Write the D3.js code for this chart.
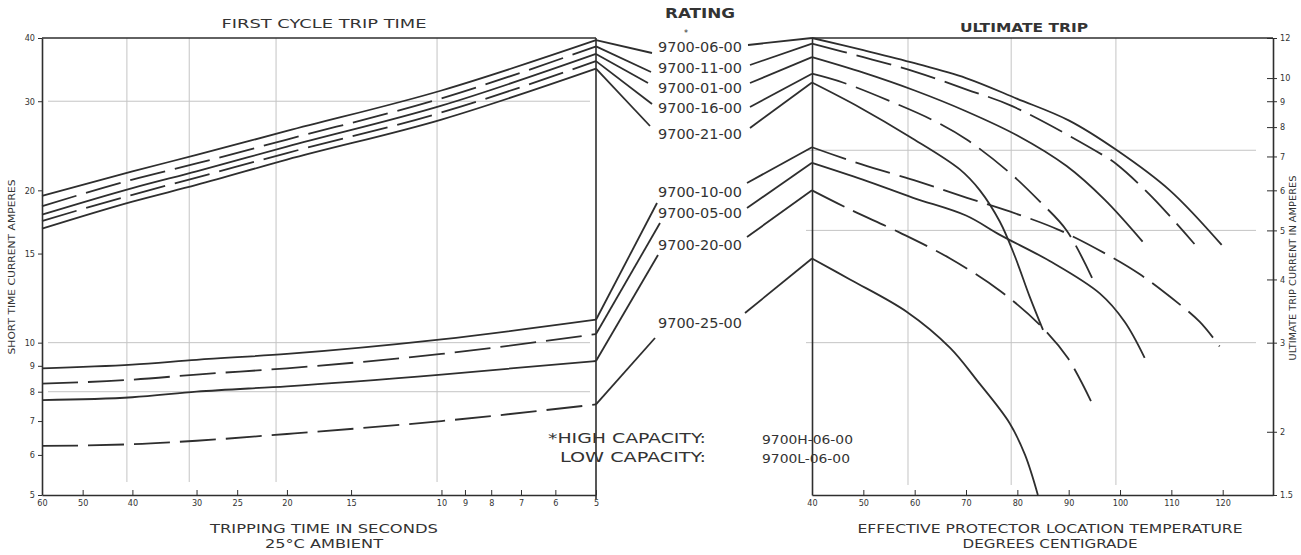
<!DOCTYPE html>
<html>
<head>
<meta charset="utf-8">
<script src="https://cdn.jsdelivr.net/npm/d3@7"></script>
<style>
  body { margin: 0; background: #fff; }
  text { font-family: "DejaVu Sans Condensed", "DejaVu Sans", sans-serif; fill: #333; }
</style>
</head>
<body>
<script>
// Ratings, in the order they are listed in the middle
var ratings = ["9700-06-00", "9700-11-00", "9700-01-00", "9700-16-00", "9700-21-00",
               "9700-10-00", "9700-05-00", "9700-20-00", "9700-25-00"];

// First cycle trip time: tripping time (s) and current (A) for each rating
var tripTimes = [60, 40, 30, 20, 10, 5];
var firstCycle06 = [19.5, 21.8, 23.5, 26.2, 31.5, 39.6];
var firstCycle11 = [18.6, 21.0, 22.6, 25.2, 30.4, 38.5];
var firstCycle01 = [17.9, 20.2, 21.8, 24.4, 29.4, 37.2];
var firstCycle16 = [17.4, 19.6, 21.2, 23.7, 28.5, 36.0];
var firstCycle21 = [16.8, 19.0, 20.5, 23.0, 27.6, 34.8];
var firstCycle10 = [8.9, 9.05, 9.25, 9.5, 10.15, 11.1];
var firstCycle05 = [8.3, 8.45, 8.65, 8.9, 9.5, 10.4];
var firstCycle20 = [7.7, 7.8, 8.0, 8.2, 8.65, 9.2];
var firstCycle25 = [6.25, 6.3, 6.4, 6.6, 7.0, 7.55];

// Ultimate trip: [temperature C, current A]
var ultimate06 = [[40,12.0],[50,11.35],[60,10.7],[70,10.0],[80,9.1],[90,8.25],[99.4,7.2],[109.7,6.0],[119.8,4.68]];
var ultimate11 = [[40,11.7],[50,11.0],[60,10.3],[70,9.5],[79,8.8],[96.6,7.05],[99.4,6.75],[106.4,5.8],[114.5,4.7]];
var ultimate01 = [[40,11.0],[50,10.25],[60,9.45],[70,8.6],[80,7.7],[89.6,6.7],[97,5.75],[104.4,4.75]];
var ultimate16 = [[40,10.2],[46,9.8],[55.8,8.95],[63.6,8.25],[70.2,7.55],[78.5,6.5],[84.4,5.7],[89.6,5.0],[94.7,4.0]];
var ultimate21 = [[40,9.8],[49.3,8.75],[59.1,7.65],[68.8,6.6],[72.7,6.0],[76.6,5.2],[79.5,4.45],[82.4,3.7],[85,3.18]];
var ultimate10 = [[40,7.3],[49.7,6.75],[60.6,6.25],[70.2,5.8],[78.5,5.45],[88.3,5.0],[98,4.45],[103.8,4.1],[109.7,3.7],[115.5,3.3],[119.4,2.95]];
var ultimate05 = [[40,6.8],[49.9,6.3],[59.7,5.8],[70,5.35],[76.6,4.9],[86.3,4.35],[96.1,3.75],[100.9,3.3],[104.8,2.8]];
var ultimate20 = [[40,6.0],[47.4,5.5],[57.1,4.95],[66.9,4.4],[76.6,3.8],[84.4,3.25],[89.8,2.8],[94.7,2.26]];
var ultimate25 = [[40,4.4],[47.4,4.0],[58.5,3.45],[66.9,2.93],[72.1,2.53],[78.5,2.08],[81.5,1.8],[84,1.5]];

// Tick labels
var leftAmpTicks = [5, 6, 7, 8, 9, 10, 15, 20, 30, 40];
var timeTicks = [60, 50, 40, 30, 25, 20, 15, 10, 9, 8, 7, 6, 5];
var tempTicks = [40, 50, 60, 70, 80, 90, 100, 110, 120];
var rightAmpTicks = [1.5, 2, 3, 4, 5, 6, 7, 8, 9, 10, 12];

// Gridlines as printed on the chart paper
var gridTimes = [41, 31, 21, 10.2];
var gridLeftAmps = [30, 10, 8];
var gridTemps = [58.7, 78.8, 99.2];
var gridRightAmps = [7.2, 5, 3];

function drawChart() {
    var width = 1301, height = 555;
    var top = 38, bottom = 495;
    var ink = "#2e2e2e", grid = "#c4c4c4";
    var dashed = [false, true, false, true, false, false, true, false, true];
    var dashedRight = [false, true, false, true, false, true, false, true, false];
    var dash = "36,10";

    var svg = d3.select("body").append("svg").attr("width", width).attr("height", height);

    // Skalor
    var xL = d3.scaleLog().domain([60, 5]).range([42, 596]);
    var yL = d3.scaleLog().domain([5, 40]).range([bottom, top]);
    var xR = d3.scaleLinear().domain([40, 129.8]).range([812, 1273]);
    var yR = d3.scaleLog().domain([1.5, 12]).range([bottom, top]);

    // Rutnät vänster
    svg.selectAll(".gxl").data(gridTimes).join("line").attr("class", "gxl")
        .attr("x1", d => xL(d)).attr("x2", d => xL(d))
        .attr("y1", top).attr("y2", 482)
        .attr("stroke", grid).attr("stroke-width", 1);
    svg.selectAll(".gyl").data(gridLeftAmps).join("line").attr("class", "gyl")
        .attr("x1", 48).attr("x2", 590)
        .attr("y1", d => yL(d)).attr("y2", d => yL(d))
        .attr("stroke", grid).attr("stroke-width", 1);

    // Rutnät höger
    svg.selectAll(".gxr").data(gridTemps).join("line").attr("class", "gxr")
        .attr("x1", d => xR(d)).attr("x2", d => xR(d))
        .attr("y1", top).attr("y2", 485)
        .attr("stroke", grid).attr("stroke-width", 1);
    svg.selectAll(".gyr").data(gridRightAmps).join("line").attr("class", "gyr")
        .attr("x1", 806).attr("x2", 1256)
        .attr("y1", d => yR(d)).attr("y2", d => yR(d))
        .attr("stroke", grid).attr("stroke-width", 1);

    // Axlar
    function styleAxis(g) {
        g.attr("font-family", "DejaVu Sans Condensed, DejaVu Sans, sans-serif").attr("font-size", 9);
        g.select(".domain").attr("stroke", ink).attr("stroke-width", 1.6);
        g.selectAll(".tick line").attr("stroke", ink);
        g.selectAll(".tick text").attr("fill", "#555");
    }
    svg.append("g").attr("transform", "translate(42,0)")
        .call(d3.axisLeft(yL).tickValues(leftAmpTicks).tickFormat(d3.format("d")).tickSize(4).tickSizeOuter(0).tickPadding(3))
        .call(styleAxis);
    svg.append("g").attr("transform", "translate(0," + bottom + ")")
        .call(d3.axisBottom(xL).tickValues(timeTicks).tickFormat(d3.format("d")).tickSize(-5).tickSizeOuter(0).tickPadding(5))
        .call(styleAxis);
    svg.append("g").attr("transform", "translate(812,0)")
        .call(d3.axisLeft(yR).tickValues([]).tickSizeOuter(0))
        .call(styleAxis);
    svg.append("g").attr("transform", "translate(0," + bottom + ")")
        .call(d3.axisBottom(xR).tickValues(tempTicks).tickFormat(d3.format("d")).tickSize(-5).tickSizeOuter(0).tickPadding(5))
        .call(styleAxis);
    var rAxis = svg.append("g").attr("transform", "translate(1273,0)")
        .call(d3.axisRight(yR).tickValues(rightAmpTicks).tickFormat(d3.format("")).tickSize(4).tickSizeOuter(0).tickPadding(3))
        .call(styleAxis);
    rAxis.selectAll(".tick line").attr("x1", -6).attr("x2", 4);

    // Ramar upptill och höger
    svg.append("line").attr("stroke", ink).attr("stroke-width", 1.6)
        .attr("x1", xL(60)).attr("x2", xL(5)).attr("y1", top).attr("y2", top);
    svg.append("line").attr("stroke", ink).attr("stroke-width", 1.6)
        .attr("x1", xL(5)).attr("x2", xL(5)).attr("y1", top).attr("y2", bottom + 4);
    svg.append("line").attr("stroke", ink).attr("stroke-width", 1.6)
        .attr("x1", xR(40)).attr("x2", 1273).attr("y1", top).attr("y2", top);

    // Kurvor vänster
    var leftSeries = [firstCycle06, firstCycle11, firstCycle01, firstCycle16, firstCycle21,
                      firstCycle10, firstCycle05, firstCycle20, firstCycle25];
    var lineL = d3.line().x((d, i) => xL(tripTimes[i])).y(d => yL(d)).curve(d3.curveMonotoneX);
    svg.selectAll(".cl").data(leftSeries).join("path").attr("class", "cl")
        .attr("d", lineL).attr("fill", "none").attr("stroke", ink).attr("stroke-width", 1.8)
        .attr("stroke-dasharray", (d, i) => dashed[i] ? dash : null);

    // Kurvor höger
    var rightSeries = [ultimate06, ultimate11, ultimate01, ultimate16, ultimate21,
                       ultimate10, ultimate05, ultimate20, ultimate25];
    var lineR = d3.line().x(d => xR(d[0])).y(d => yR(d[1])).curve(d3.curveCatmullRom.alpha(0.5));
    svg.selectAll(".cr").data(rightSeries).join("path").attr("class", "cr")
        .attr("d", lineR).attr("fill", "none").attr("stroke", ink).attr("stroke-width", 1.8)
        .attr("stroke-dasharray", (d, i) => dashedRight[i] ? dash : null);

    // Etiketter i mitten
    var labelY = [52, 73, 93, 113, 139, 197, 218, 250, 328];
    var leftLeaderEnd = [[652,53],[651,72],[648,83],[652,104],[650,126],[657,203],[660,223],[658,255],[655,338]];
    var rightLeaderStart = [[748,45],[750,65],[750,83],[750,107],[750,128],[747,183],[747,208],[747,237],[745,313]];

    svg.selectAll(".lab").data(ratings).join("text").attr("class", "lab")
        .attr("x", 700).attr("y", (d, i) => labelY[i])
        .attr("text-anchor", "middle").attr("font-size", 14)
        .attr("textLength", 84).attr("lengthAdjust", "spacingAndGlyphs")
        .text(d => d);
    svg.append("text").attr("x", 684).attr("y", 36).attr("font-size", 9).text("*");

    svg.selectAll(".ldl").data(leftSeries).join("line").attr("class", "ldl")
        .attr("x1", d => xL(5)).attr("y1", d => yL(d[d.length - 1]))
        .attr("x2", (d, i) => leftLeaderEnd[i][0]).attr("y2", (d, i) => leftLeaderEnd[i][1])
        .attr("stroke", ink).attr("stroke-width", 1.8);
    svg.selectAll(".ldr").data(rightSeries).join("line").attr("class", "ldr")
        .attr("x1", (d, i) => rightLeaderStart[i][0]).attr("y1", (d, i) => rightLeaderStart[i][1])
        .attr("x2", d => xR(d[0][0])).attr("y2", d => yR(d[0][1]))
        .attr("stroke", ink).attr("stroke-width", 1.8);

    // Rubriker
    svg.append("text").attr("x", 700).attr("y", 18).attr("text-anchor", "middle")
        .attr("font-size", 14).attr("font-weight", "bold")
        .attr("textLength", 70).attr("lengthAdjust", "spacingAndGlyphs").text("RATING");
    svg.append("text").attr("x", 324).attr("y", 28).attr("text-anchor", "middle")
        .attr("font-size", 13).attr("textLength", 205).attr("lengthAdjust", "spacingAndGlyphs")
        .text("FIRST CYCLE TRIP TIME");
    svg.append("text").attr("x", 1024).attr("y", 32).attr("text-anchor", "middle")
        .attr("font-size", 13).attr("font-weight", "bold").attr("textLength", 128).attr("lengthAdjust", "spacingAndGlyphs")
        .text("ULTIMATE TRIP");

    // Axeltitlar
    svg.append("text").attr("x", 324).attr("y", 533).attr("text-anchor", "middle")
        .attr("font-size", 12).attr("textLength", 228).attr("lengthAdjust", "spacingAndGlyphs")
        .text("TRIPPING TIME IN SECONDS");
    svg.append("text").attr("x", 324).attr("y", 548).attr("text-anchor", "middle")
        .attr("font-size", 12).attr("textLength", 118).attr("lengthAdjust", "spacingAndGlyphs")
        .text("25°C AMBIENT");
    svg.append("text").attr("x", 1050).attr("y", 533).attr("text-anchor", "middle")
        .attr("font-size", 12).attr("textLength", 385).attr("lengthAdjust", "spacingAndGlyphs")
        .text("EFFECTIVE PROTECTOR LOCATION TEMPERATURE");
    svg.append("text").attr("x", 1050).attr("y", 548).attr("text-anchor", "middle")
        .attr("font-size", 12).attr("textLength", 175).attr("lengthAdjust", "spacingAndGlyphs")
        .text("DEGREES CENTIGRADE");
    svg.append("text").attr("transform", "translate(15,267) rotate(-90)").attr("text-anchor", "middle")
        .attr("font-size", 9).attr("textLength", 175).attr("lengthAdjust", "spacingAndGlyphs")
        .text("SHORT TIME CURRENT AMPERES");
    svg.append("text").attr("transform", "translate(1296,268) rotate(-90)").attr("text-anchor", "middle")
        .attr("font-size", 9).attr("textLength", 185).attr("lengthAdjust", "spacingAndGlyphs")
        .text("ULTIMATE TRIP CURRENT IN AMPERES");

    // Kapacitetsnot
    svg.append("text").attr("x", 706).attr("y", 443).attr("text-anchor", "end")
        .attr("font-size", 14).attr("textLength", 158).attr("lengthAdjust", "spacingAndGlyphs")
        .text("*HIGH CAPACITY:");
    svg.append("text").attr("x", 706).attr("y", 462).attr("text-anchor", "end")
        .attr("font-size", 14).attr("textLength", 146).attr("lengthAdjust", "spacingAndGlyphs")
        .text("LOW CAPACITY:");
    svg.append("text").attr("x", 762).attr("y", 444)
        .attr("font-size", 12).attr("textLength", 91).attr("lengthAdjust", "spacingAndGlyphs")
        .text("9700H-06-00");
    svg.append("text").attr("x", 762).attr("y", 463)
        .attr("font-size", 12).attr("textLength", 88).attr("lengthAdjust", "spacingAndGlyphs")
        .text("9700L-06-00");
}

drawChart();
</script>
</body>
</html>
